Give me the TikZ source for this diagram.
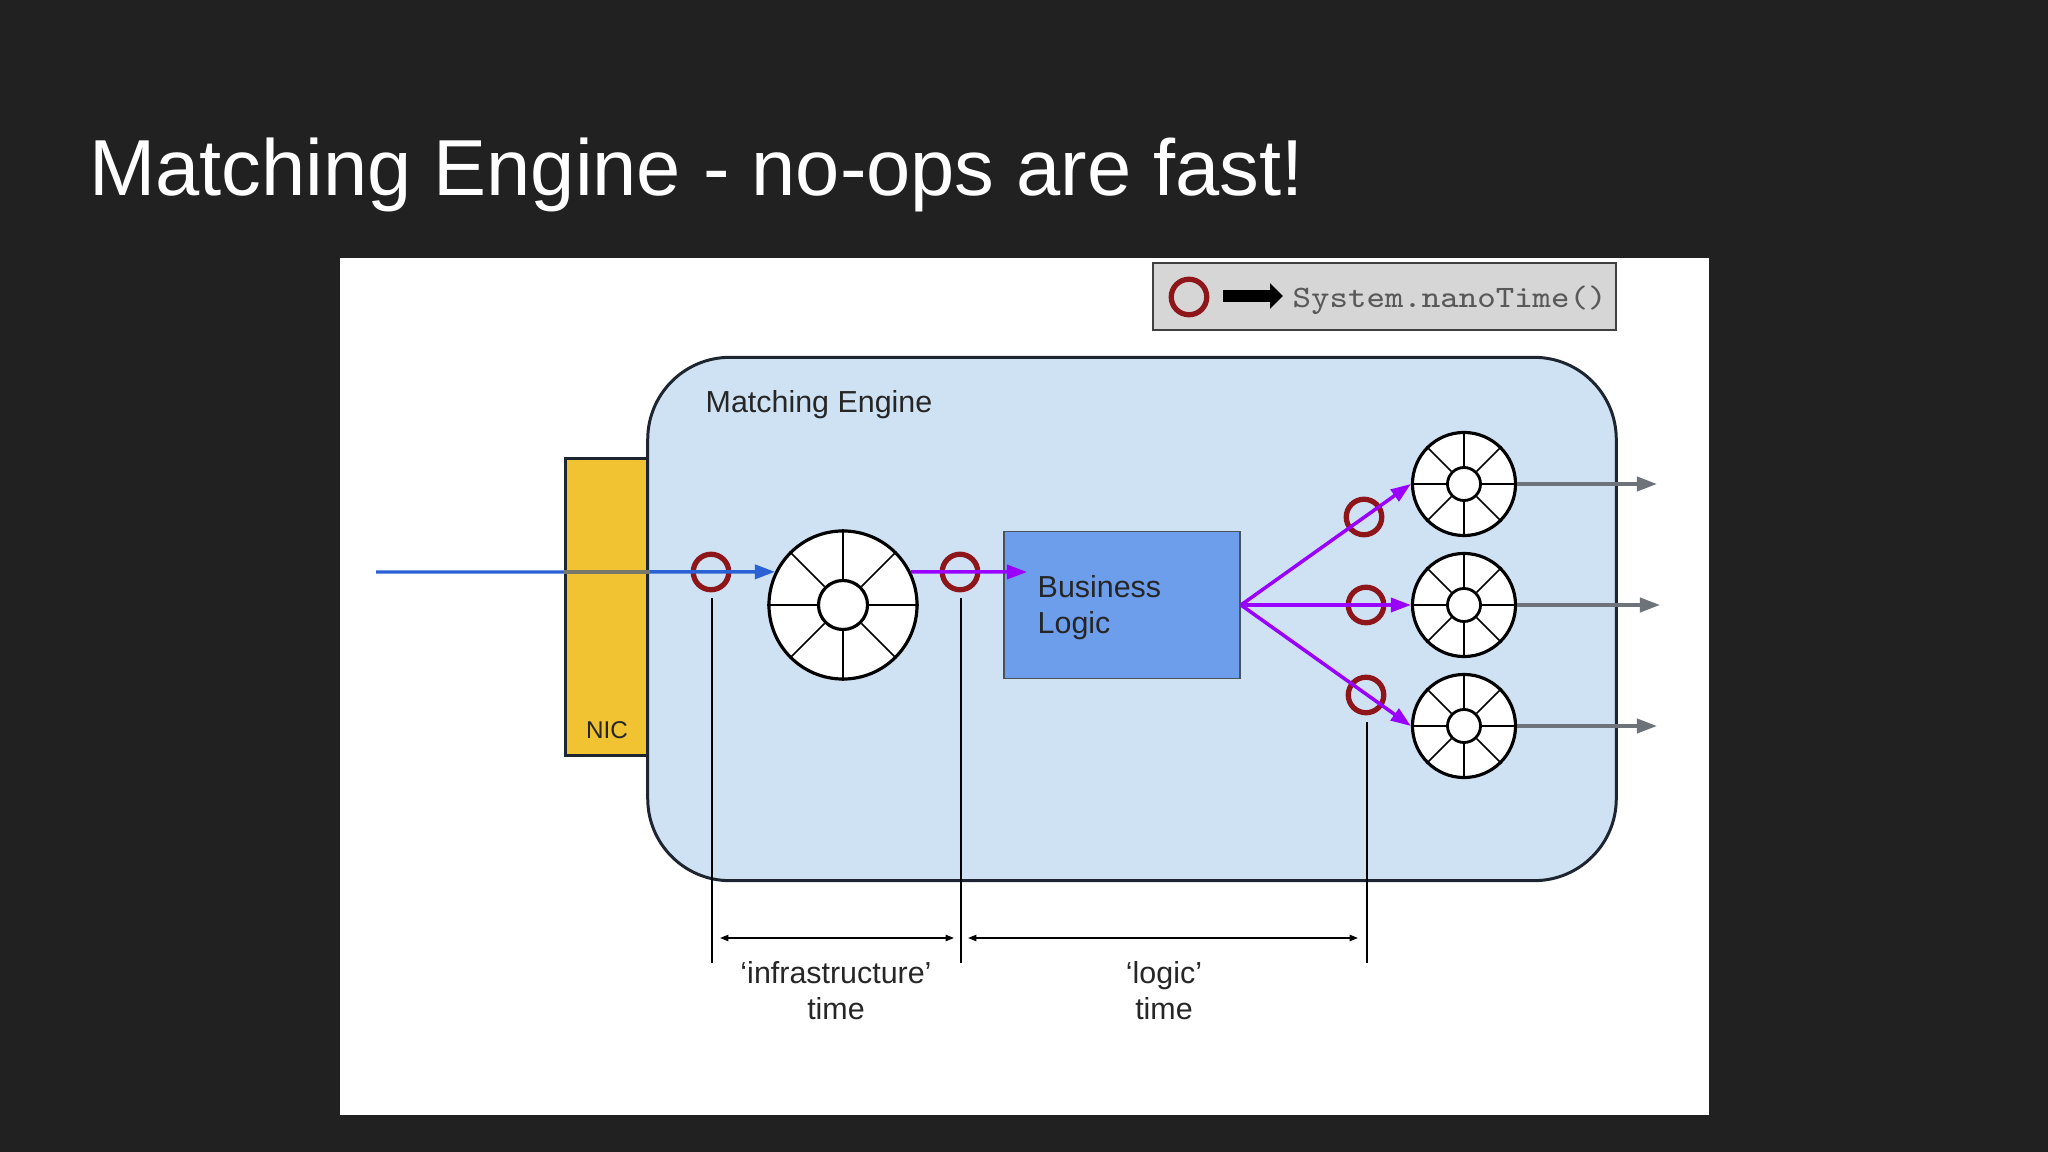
\documentclass[tikz,border=0pt]{standalone}
\usepackage{fontspec}
\setmainfont{Liberation Sans}
\setmonofont[FakeStretch=1.13]{Latin Modern Mono}
\usetikzlibrary{arrows.meta}
\definecolor{slidebg}{HTML}{212121}
\definecolor{enginefill}{HTML}{CFE2F3}
\definecolor{nicfill}{HTML}{F1C232}
\definecolor{logicfill}{HTML}{6D9EEB}
\definecolor{edgedark}{HTML}{1C2530}
\definecolor{stampred}{HTML}{8E1519}
\definecolor{inblue}{HTML}{2A62D6}
\definecolor{flowpurple}{HTML}{9900FF}
\definecolor{outgray}{HTML}{6E7379}
\definecolor{wiredim}{HTML}{77786A}
\tikzset{
  label text/.style={font=\fontsize{8.65pt}{10.24pt}\selectfont,text=black!85,inner sep=0pt,align=center},
  stamp/.style={circle,draw=stampred,line width=1.5pt,minimum size=.355cm,inner sep=0pt},
  ring big/.style={circle,draw=black,fill=white,line width=.9pt,minimum size=1.48cm,inner sep=0pt},
  ring small/.style={circle,draw=black,fill=white,line width=.9pt,minimum size=1.03cm,inner sep=0pt},
  hub big/.style={circle,draw=black,fill=white,line width=.9pt,minimum size=.49cm,inner sep=0pt},
  hub small/.style={circle,draw=black,fill=white,line width=.8pt,minimum size=.33cm,inner sep=0pt},
  spoke/.style={black,line width=.45pt},
  flow/.style={flowpurple,line width=1pt,-{Triangle[length=5.7pt,width=4pt]}},
  outflow/.style={outgray,line width=1.05pt,-{Triangle[length=5.7pt,width=4pt]}},
  tickline/.style={black,line width=.4pt},
  spanline/.style={black,line width=.45pt,{Triangle[length=2.4pt,width=1.8pt]}-{Triangle[length=2.4pt,width=1.8pt]}},
}
\begin{document}
\begin{tikzpicture}[x=.01cm,y=-.01cm]
  \fill[slidebg] (0,0) rectangle (2048,1152);
  \useasboundingbox (0,0) rectangle (2048,1152);
  \fill[white] (339.5,258.5) rectangle (1708.5,1115);
  \node[anchor=base west,inner sep=0pt,text=white,font=\fontsize{22.6pt}{26pt}\selectfont] (title) at (88.5,196) {Matching Engine - no-ops are fast!};

  % legend
  \node[draw=black!75,fill=black!16,line width=.6pt,minimum width=4.63cm,minimum height=.67cm,inner sep=0pt] (legend) at (1384.5,296.5) {};
  \node[stamp] (legendstamp) at (1189,297) {};
  \coordinate (legendfrom) at (1223,296);
  \coordinate (legendto) at (1283,296);
  \draw[black,line width=3.6pt,-{Triangle[length=3.7pt,width=7.1pt]}] (legendfrom) -- (legendto);
  \node[anchor=base west,inner sep=0pt,text=black!65,font=\ttfamily\fontsize{8.85pt}{10pt}\selectfont] (legendtext) at (1292,308) {System.nanoTime()};

  % boxes
  \node[draw=edgedark,fill=nicfill,line width=.85pt,minimum width=.82cm,minimum height=2.96cm,inner sep=0pt] (nic) at (607,607) {};
  \node[label text,font=\fontsize{6.9pt}{8pt}\selectfont] (niclabel) at (607,730) {NIC};
  \node[draw=edgedark,fill=enginefill,line width=.85pt,rounded corners=.82cm,minimum width=9.68cm,minimum height=5.23cm,inner sep=0pt] (engine) at (1132,619) {};
  \node[label text,anchor=base west] (enginelabel) at (705,413) {Matching Engine};
  \node[draw=edgedark!80,fill=logicfill,line width=.5pt,minimum width=2.36cm,minimum height=1.47cm,inner sep=0pt] (logic) at (1122,605) {};
  \node[label text,anchor=west,align=left] (logiclabel) at (1037,607.5) {Business\\Logic};

  % queues
  \node[ring big] (qin) at (843,605) {};
  \node[hub big] (qinhub) at (843,605) {};
  \node[ring small] (qtop) at (1464,484) {};
  \node[hub small] (qtophub) at (1464,484) {};
  \node[ring small] (qmid) at (1464,605) {};
  \node[hub small] (qmidhub) at (1464,605) {};
  \node[ring small] (qlow) at (1464,726) {};
  \node[hub small] (qlowhub) at (1464,726) {};
  \foreach \ring in {qin,qtop,qmid,qlow}
    \foreach \ang in {0,45,...,315}
      \draw[spoke] (\ring.\ang) -- (\ring hub.\ang);

  % timestamps
  \node[stamp] (stampin) at (711,572) {};
  \node[stamp] (stampout) at (960,572) {};
  \node[stamp] (stamptop) at (1364,517) {};
  \node[stamp] (stampmid) at (1366,605) {};
  \node[stamp] (stamplow) at (1366,695) {};

  % flows
  \coordinate (wirein) at (376,572);
  \coordinate (logicin) at (1027,572);
  \draw[inblue,line width=.95pt,-{Triangle[length=5.7pt,width=4pt]}] (wirein) -- (qin.154);
  \draw[wiredim,line width=.95pt] (nic.west |- wirein) -- (nic.east |- wirein);
  \draw[flow] (qin.26) -- (logicin);
  \draw[flow] (logic.east) -- (qtop.west);
  \draw[flow] (logic.east) -- (qmid.west);
  \draw[flow] (logic.east) -- (qlow.west);
  \coordinate (outtop) at (1657,484);
  \coordinate (outmid) at (1660,605);
  \coordinate (outlow) at (1657,726);
  \draw[outflow] (qtop.east) -- (outtop);
  \draw[outflow] (qmid.east) -- (outmid);
  \draw[outflow] (qlow.east) -- (outlow);

  % spans
  \coordinate (tickAa) at (712,598);
  \coordinate (tickAb) at (712,963);
  \coordinate (tickBa) at (961,598);
  \coordinate (tickBb) at (961,963);
  \coordinate (tickCa) at (1367,722);
  \coordinate (tickCb) at (1367,963);
  \draw[tickline] (tickAa) -- (tickAb);
  \draw[tickline] (tickBa) -- (tickBb);
  \draw[tickline] (tickCa) -- (tickCb);
  \coordinate (spanAa) at (720,938);
  \coordinate (spanAb) at (954,938);
  \coordinate (spanBa) at (968,938);
  \coordinate (spanBb) at (1358,938);
  \draw[spanline] (spanAa) -- (spanAb);
  \draw[spanline] (spanBa) -- (spanBb);
  \node[label text] (infralabel) at (836,991) {‘infrastructure’\\time};
  \node[label text] (logictime) at (1164,991) {‘logic’\\time};
\end{tikzpicture}
\end{document}
